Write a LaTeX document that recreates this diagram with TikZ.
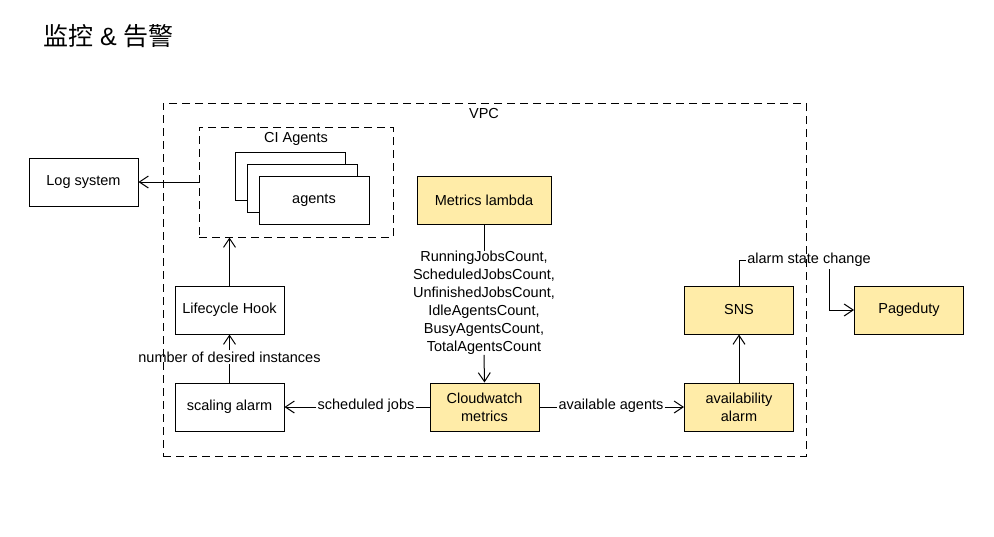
\documentclass[tikz,border=0pt]{standalone}
\usepackage{fontspec}
\setmainfont{Liberation Sans}
\newfontfamily\cjk{Noto Sans CJK SC}
\usetikzlibrary{arrows.meta}
\definecolor{ylw}{RGB}{255,236,168}
\begin{document}
\begin{tikzpicture}[x=1pt,y=-1pt,
  txt/.style={font=\fontsize{14.5}{18}\selectfont},
  box/.style={txt, draw, line width=1pt, minimum width=109pt, minimum height=48pt, inner sep=0pt, align=center, fill=white},
  ybox/.style={box, fill=ylw},
  dbox/.style={draw, line width=1pt, dash pattern=on 8pt off 5pt, inner sep=0pt},
  lbl/.style={txt, inner sep=1pt, align=center},
  conn/.style={line width=1pt},
  arr/.style={conn, -{Straight Barb[length=9pt,width=12pt]}}
]
\useasboundingbox (0,0) rectangle (994,536);

\node[anchor=west, inner sep=0pt, font=\fontsize{25}{30}\selectfont] (title) at (43,36) {{\cjk 监控} \& {\cjk 告警}};

% containers
\node[dbox, minimum width=643pt, minimum height=353pt] (vpc) at (484.5,279.5) {};
\node[txt, inner sep=0pt] (vpclbl) at (484,113.5) {VPC};
\node[dbox, minimum width=194pt, minimum height=110pt] (ci) at (296,182) {};
\node[txt, inner sep=0pt] (cilbl) at (296,138.5) {CI Agents};

% agents stack
\node[box, minimum width=110pt] (ag1) at (290,176) {};
\node[box, minimum width=110pt] (ag2) at (302,188) {};
\node[box, minimum width=110pt] (ag3) at (314,200.5) {agents};

\node[box] (log) at (83.5,182) {Log system};
\node[ybox, minimum width=134pt] (ml) at (484,200) {Metrics lambda};
\node[ybox] (cw) at (484.5,407) {Cloudwatch\\metrics};
\node[box] (lh) at (229.5,310) {Lifecycle Hook};
\node[box] (sa) at (229.5,407) {scaling alarm};
\node[ybox] (aa) at (739,407) {availability\\alarm};
\node[ybox] (sns) at (739,310) {SNS};
\node[ybox] (pd) at (909,310) {Pageduty};

% connectors
\draw[arr] (ci.west) -- (log.east);
\draw[arr] (lh.north) -- (ci.south -| lh.north);

\node[lbl, inner sep=0pt] (mlab) at (484,303) {RunningJobsCount,\\ScheduledJobsCount,\\UnfinishedJobsCount,\\IdleAgentsCount,\\BusyAgentsCount,\\TotalAgentsCount};
\draw[conn] (ml.south) -- (mlab.north);
\draw[arr] (mlab.south) -- (cw.north);

\node[lbl] (nd) at (229.5,357) {number of desired instances};
\draw[conn] (sa.north) -- (nd.south);
\draw[arr] (nd.north) -- (lh.south);

\node[lbl] (sj) at (366,406) {scheduled jobs};
\draw[conn] (cw.west) -- (sj.east |- cw.west);
\draw[arr] (sj.west |- sa.east) -- (sa.east);

\node[lbl] (av) at (611,406) {available agents};
\draw[conn] (cw.east) -- (av.west |- cw.east);
\draw[arr] (av.east |- aa.west) -- (aa.west);

\draw[arr] (aa.north) -- (sns.north |- sns.south);

\node[lbl] (asc) at (809,260) {alarm state change};
\draw[conn] (sns.north) |- (asc.west);
\coordinate (ascd) at (829,269);
\draw[arr] (ascd) |- (pd.west);
\end{tikzpicture}
\end{document}
